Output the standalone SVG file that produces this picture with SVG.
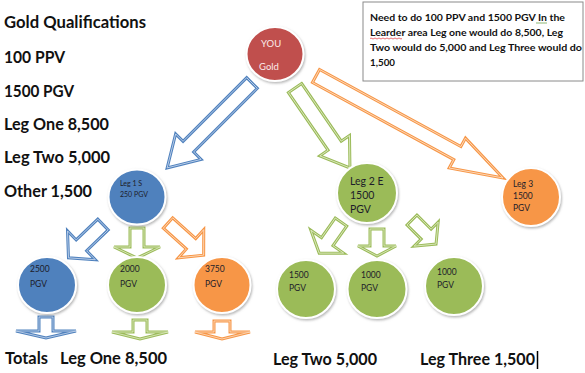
<svg xmlns="http://www.w3.org/2000/svg" xmlns:xlink="http://www.w3.org/1999/xlink" width="585" height="373" viewBox="0 0 585 373">
<style>
.t{font-family:Lato,"Liberation Sans",sans-serif;font-weight:bold;font-size:17px;fill:#111}
.bx{font-family:Lato,"Liberation Sans",sans-serif;font-weight:bold;font-size:10px;fill:#111}
.nl{font-family:Lato,"Liberation Sans",sans-serif;fill:#1d1d2a}
.nw{font-family:Lato,"Liberation Sans",sans-serif;fill:#fbeaea}
.node{stroke:#ffffff;stroke-width:2;filter:url(#sh)}
.red{fill:#C0504D}.blue{fill:#4F81BD}.green{fill:#9BBB59}.orange{fill:#F79646}
.ab{fill:#fff;stroke:#4F81BD;stroke-width:3;stroke-linejoin:miter}
.ag{fill:#fff;stroke:#9BBB59;stroke-width:3;stroke-linejoin:miter}
.ao{fill:#fff;stroke:#F79646;stroke-width:3;stroke-linejoin:miter}
.in-b{fill:none;stroke:#c9d8ee;stroke-width:0.8}
.in-g{fill:none;stroke:#e2ecc9;stroke-width:0.8}
.in-o{fill:none;stroke:#fde0c6;stroke-width:0.8}
</style>
<defs>
<filter id="sh" x="-20%" y="-20%" width="140%" height="140%">
<feDropShadow dx="1" dy="1.5" stdDeviation="1.2" flood-color="#888" flood-opacity="0.6"/>
</filter>
<polygon id="a1" points="0,-7.5 90,-7.5 90,-18 120,0 90,18 90,7.5 0,7.5" transform="translate(252,83) rotate(135)"/>
<polygon id="a2" points="0,-8 70,-8 70,-18 97,0 70,18 70,8 0,8" transform="translate(295,88) rotate(55.5)"/>
<polygon id="a3" points="0,-7.4 161,-7.4 161,-17 213,0 161,17 161,7.4 0,7.4" transform="translate(316,76) rotate(28.6)"/>
<polygon id="a4" points="0,-7.5 30,-7.5 30,-20 48,0 30,20 30,7.5 0,7.5" transform="translate(103,224.5) rotate(136)"/>
<polygon id="a5" points="0,-7 19,-7 19,-23 30,0 19,23 19,7 0,7" transform="translate(137,228) rotate(90)"/>
<polygon id="a6" points="0,-7 31,-7 31,-19 48,0 31,19 31,7 0,7" transform="translate(168,223) rotate(42)"/>
<polygon id="a7" points="0,-7 24,-7 24,-20 38,0 24,20 24,7 0,7" transform="translate(341,222) rotate(125)"/>
<polygon id="a8" points="0,-7 17,-7 17,-19 27,0 17,19 17,7 0,7" transform="translate(377,229) rotate(90)"/>
<polygon id="a9" points="0,-7 20,-7 20,-17 34,0 20,17 20,7 0,7" transform="translate(412,220) rotate(45)"/>
<polygon id="b1" points="39,317 53,317 53,331 76,331 46,338 16,331 39,331"/>
<polygon id="b2" points="133,320 147,320 147,332 168,332 140,339 112,332 133,332"/>
<polygon id="b3" points="214,321 230,321 230,332 250,332 222,339 195,332 214,332"/>
</defs>

<g id="left-text">
<text class="t" x="4" y="28" textLength="142" lengthAdjust="spacingAndGlyphs">Gold Qualifications</text>
<text class="t" x="4" y="63" textLength="61" lengthAdjust="spacingAndGlyphs">100 PPV</text>
<text class="t" x="4" y="97" textLength="70" lengthAdjust="spacingAndGlyphs">1500 PGV</text>
<text class="t" x="4" y="130" textLength="105" lengthAdjust="spacingAndGlyphs">Leg One 8,500</text>
<text class="t" x="4" y="163" textLength="106" lengthAdjust="spacingAndGlyphs">Leg Two 5,000</text>
<text class="t" x="4" y="197" textLength="88" lengthAdjust="spacingAndGlyphs">Other 1,500</text>
</g>

<g id="note">
<rect x="363" y="2" width="220" height="79" fill="#fff" stroke="#8a8a8a" stroke-width="1"/>
<text class="bx" x="370" y="21" textLength="195" lengthAdjust="spacingAndGlyphs">Need to do 100 PPV and 1500 PGV In the</text>
<text class="bx" x="370" y="36" textLength="193" lengthAdjust="spacingAndGlyphs">Learder area Leg one would do 8,500, Leg</text>
<text class="bx" x="370" y="51" textLength="212" lengthAdjust="spacingAndGlyphs">Two would do 5,000 and Leg Three would do</text>
<text class="bx" x="370" y="66" textLength="25" lengthAdjust="spacingAndGlyphs">1,500</text>
<path d="M370,38.5 q1,-1 2,0 t2,0 t2,0 t2,0 t2,0 t2,0 t2,0 t2,0 t2,0 t2,0 t2,0 t2,0 t2,0 t2,0 t2,0 t2,0" fill="none" stroke="#e0303a" stroke-width="0.7"/>
<line x1="536" y1="23" x2="547" y2="23" stroke="#5a9a3a" stroke-width="0.7"/>
</g>

<g id="connectors">
<use xlink:href="#a1" class="ab"/><use xlink:href="#a1" class="in-b"/>
<use xlink:href="#a2" class="ag"/><use xlink:href="#a2" class="in-g"/>
<use xlink:href="#a3" class="ao"/><use xlink:href="#a3" class="in-o"/>
<use xlink:href="#a4" class="ab"/><use xlink:href="#a4" class="in-b"/>
<use xlink:href="#a5" class="ag"/><use xlink:href="#a5" class="in-g"/>
<use xlink:href="#a6" class="ao"/><use xlink:href="#a6" class="in-o"/>
<use xlink:href="#a7" class="ag"/><use xlink:href="#a7" class="in-g"/>
<use xlink:href="#a8" class="ag"/><use xlink:href="#a8" class="in-g"/>
<use xlink:href="#a9" class="ag"/><use xlink:href="#a9" class="in-g"/>
<use xlink:href="#b1" class="ab"/><use xlink:href="#b1" class="in-b"/>
<use xlink:href="#b2" class="ag"/><use xlink:href="#b2" class="in-g"/>
<use xlink:href="#b3" class="ao"/><use xlink:href="#b3" class="in-o"/>
</g>

<g id="you">
<ellipse class="node red" cx="275" cy="54" rx="28.5" ry="27"/>
<text class="nw" x="261" y="47" font-size="9.5">YOU</text>
<text class="nw" x="259" y="70" font-size="9.5">Gold</text>
</g>
<g id="leg1">
<ellipse class="node blue" cx="137" cy="197" rx="28.5" ry="27.5"/>
<text class="nl" x="120" y="186" font-size="7">Leg 1 S</text>
<text class="nl" x="120" y="197" font-size="7">250 PGV</text>
</g>
<g id="leg2">
<ellipse class="node green" cx="367" cy="193" rx="30" ry="30"/>
<text class="nl" x="350" y="185" font-size="10.5">Leg 2 E</text>
<text class="nl" x="350" y="199" font-size="10.5">1500</text>
<text class="nl" x="350" y="213" font-size="10.5">PGV</text>
</g>
<g id="leg3">
<ellipse class="node orange" cx="531" cy="197" rx="29" ry="29"/>
<text class="nl" x="513" y="187" font-size="8.5">Leg 3</text>
<text class="nl" x="513" y="199" font-size="8.5">1500</text>
<text class="nl" x="513" y="211" font-size="8.5">PGV</text>
</g>
<g id="n2500">
<ellipse class="node blue" cx="47" cy="285" rx="29" ry="28"/>
<text class="nl" x="30" y="272" font-size="8.5">2500</text>
<text class="nl" x="30" y="287" font-size="8.5">PGV</text>
</g>
<g id="n2000">
<ellipse class="node green" cx="137" cy="285" rx="29" ry="28"/>
<text class="nl" x="120" y="272" font-size="8.5">2000</text>
<text class="nl" x="120" y="287" font-size="8.5">PGV</text>
</g>
<g id="n3750">
<ellipse class="node orange" cx="222" cy="285" rx="28.5" ry="28"/>
<text class="nl" x="205" y="272" font-size="8.5">3750</text>
<text class="nl" x="205" y="287" font-size="8.5">PGV</text>
</g>
<g id="n1500">
<ellipse class="node green" cx="306" cy="289" rx="29" ry="29"/>
<text class="nl" x="289" y="278" font-size="8.5">1500</text>
<text class="nl" x="289" y="291" font-size="8.5">PGV</text>
</g>
<g id="n1000a">
<ellipse class="node green" cx="377" cy="289" rx="29.5" ry="29"/>
<text class="nl" x="361" y="278" font-size="8.5">1000</text>
<text class="nl" x="361" y="291" font-size="8.5">PGV</text>
</g>
<g id="n1000b">
<ellipse class="node green" cx="454" cy="286" rx="29" ry="29"/>
<text class="nl" x="437" y="275" font-size="8.5">1000</text>
<text class="nl" x="437" y="288" font-size="8.5">PGV</text>
</g>

<g id="totals">
<text class="t" x="5" y="364" textLength="43" lengthAdjust="spacingAndGlyphs">Totals</text>
<text class="t" x="60" y="364" textLength="107" lengthAdjust="spacingAndGlyphs">Leg One 8,500</text>
<text class="t" x="273" y="365" textLength="104" lengthAdjust="spacingAndGlyphs">Leg Two 5,000</text>
<text class="t" x="420" y="365" textLength="115" lengthAdjust="spacingAndGlyphs">Leg Three 1,500</text>
<line x1="537.5" y1="351" x2="537.5" y2="369" stroke="#000" stroke-width="1.5"/>
</g>
</svg>
